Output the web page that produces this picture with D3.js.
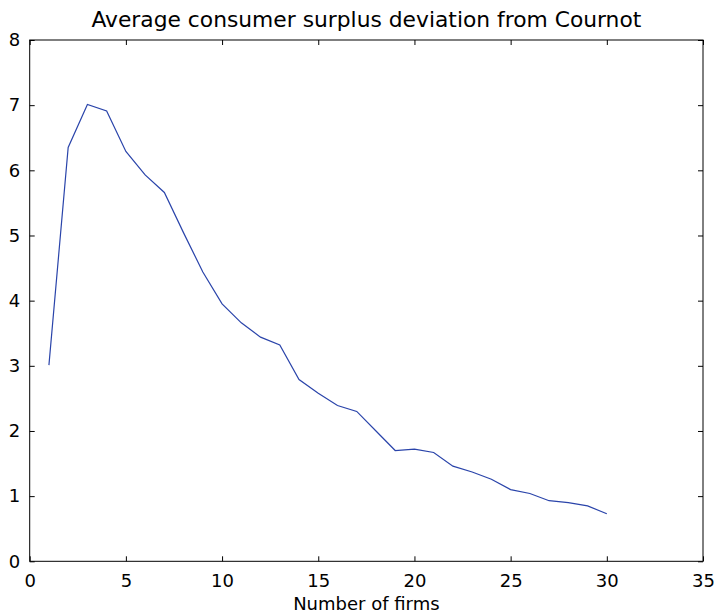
<!DOCTYPE html>
<html>
<head>
<meta charset="utf-8">
<script src="https://cdn.jsdelivr.net/npm/d3@7"></script>
<style>
  html, body { margin: 0; padding: 0; background: #fff; }
  svg { display: block; font-family: "DejaVu Sans", sans-serif; }
</style>
</head>
<body>
<svg id="chart" width="718" height="614"></svg>
<script>
// Number of firms in the market
const firms = [1, 2, 3, 4, 5, 6, 7, 8, 9, 10, 11, 12, 13, 14, 15,
               16, 17, 18, 19, 20, 21, 22, 23, 24, 25, 26, 27, 28, 29, 30];
// Average consumer surplus deviation from the Cournot outcome
const deviation = [3.01, 6.35, 7.01, 6.91, 6.29, 5.93, 5.66, 5.04, 4.44, 3.95,
                   3.66, 3.44, 3.32, 2.79, 2.58, 2.39, 2.30, 2.00, 1.70, 1.72,
                   1.67, 1.46, 1.37, 1.26, 1.10, 1.04, 0.93, 0.90, 0.85, 0.73];
const xTicks = [0, 5, 10, 15, 20, 25, 30, 35];
const yTicks = [0, 1, 2, 3, 4, 5, 6, 7, 8];

const titleText = "Average consumer surplus deviation from Cournot";
const xLabel = "Number of firms";

const svg = d3.select("#chart");
const plotLeft = 29.7, plotRight = 703, plotTop = 40, plotBottom = 561.3;

const x = d3.scaleLinear().domain([0, 35]).range([plotLeft, plotRight]);
const y = d3.scaleLinear().domain([0, 8]).range([plotBottom, plotTop]);

const tickLen = 5;

// Axes on all four sides with inward ticks
const bottomAxis = svg.append("g")
  .attr("transform", `translate(0,${plotBottom})`)
  .call(d3.axisBottom(x).tickValues(xTicks).tickSize(-tickLen).tickPadding(12.5).tickFormat(d3.format("d")));
const topAxis = svg.append("g")
  .attr("transform", `translate(0,${plotTop})`)
  .call(d3.axisTop(x).tickValues(xTicks).tickSize(-tickLen).tickFormat(""));
const leftAxis = svg.append("g")
  .attr("transform", `translate(${plotLeft},0)`)
  .call(d3.axisLeft(y).tickValues(yTicks).tickSize(-tickLen).tickPadding(9.5).tickFormat(d3.format("d")));
const rightAxis = svg.append("g")
  .attr("transform", `translate(${plotRight},0)`)
  .call(d3.axisRight(y).tickValues(yTicks).tickSize(-tickLen).tickFormat(""));

[bottomAxis, topAxis, leftAxis, rightAxis].forEach(g => {
  g.select(".domain").remove();
  g.selectAll(".tick line").attr("stroke", "#000").attr("stroke-width", 1);
  g.selectAll(".tick text")
    .attr("fill", "#000")
    .style("font-family", "'DejaVu Sans', sans-serif")
    .style("font-size", "18px");
});

// Frame
svg.append("rect")
  .attr("x", plotLeft).attr("y", plotTop)
  .attr("width", plotRight - plotLeft).attr("height", plotBottom - plotTop)
  .attr("fill", "none").attr("stroke", "#000").attr("stroke-width", 1);

// Data line
const line = d3.line()
  .x((d, i) => x(firms[i]))
  .y(d => y(d));

svg.append("path")
  .datum(deviation)
  .attr("d", line)
  .attr("fill", "none")
  .attr("stroke", "#2a44aa")
  .attr("stroke-width", 1.2);

// Title
svg.append("text")
  .attr("x", (plotLeft + plotRight) / 2)
  .attr("y", 27.3)
  .attr("text-anchor", "middle")
  .style("font-size", "21.8px")
  .attr("fill", "#000")
  .text(titleText);

// X axis label
svg.append("text")
  .attr("x", (plotLeft + plotRight) / 2)
  .attr("y", 609.5)
  .attr("text-anchor", "middle")
  .style("font-size", "18px")
  .attr("fill", "#000")
  .text(xLabel);
</script>
</body>
</html>
